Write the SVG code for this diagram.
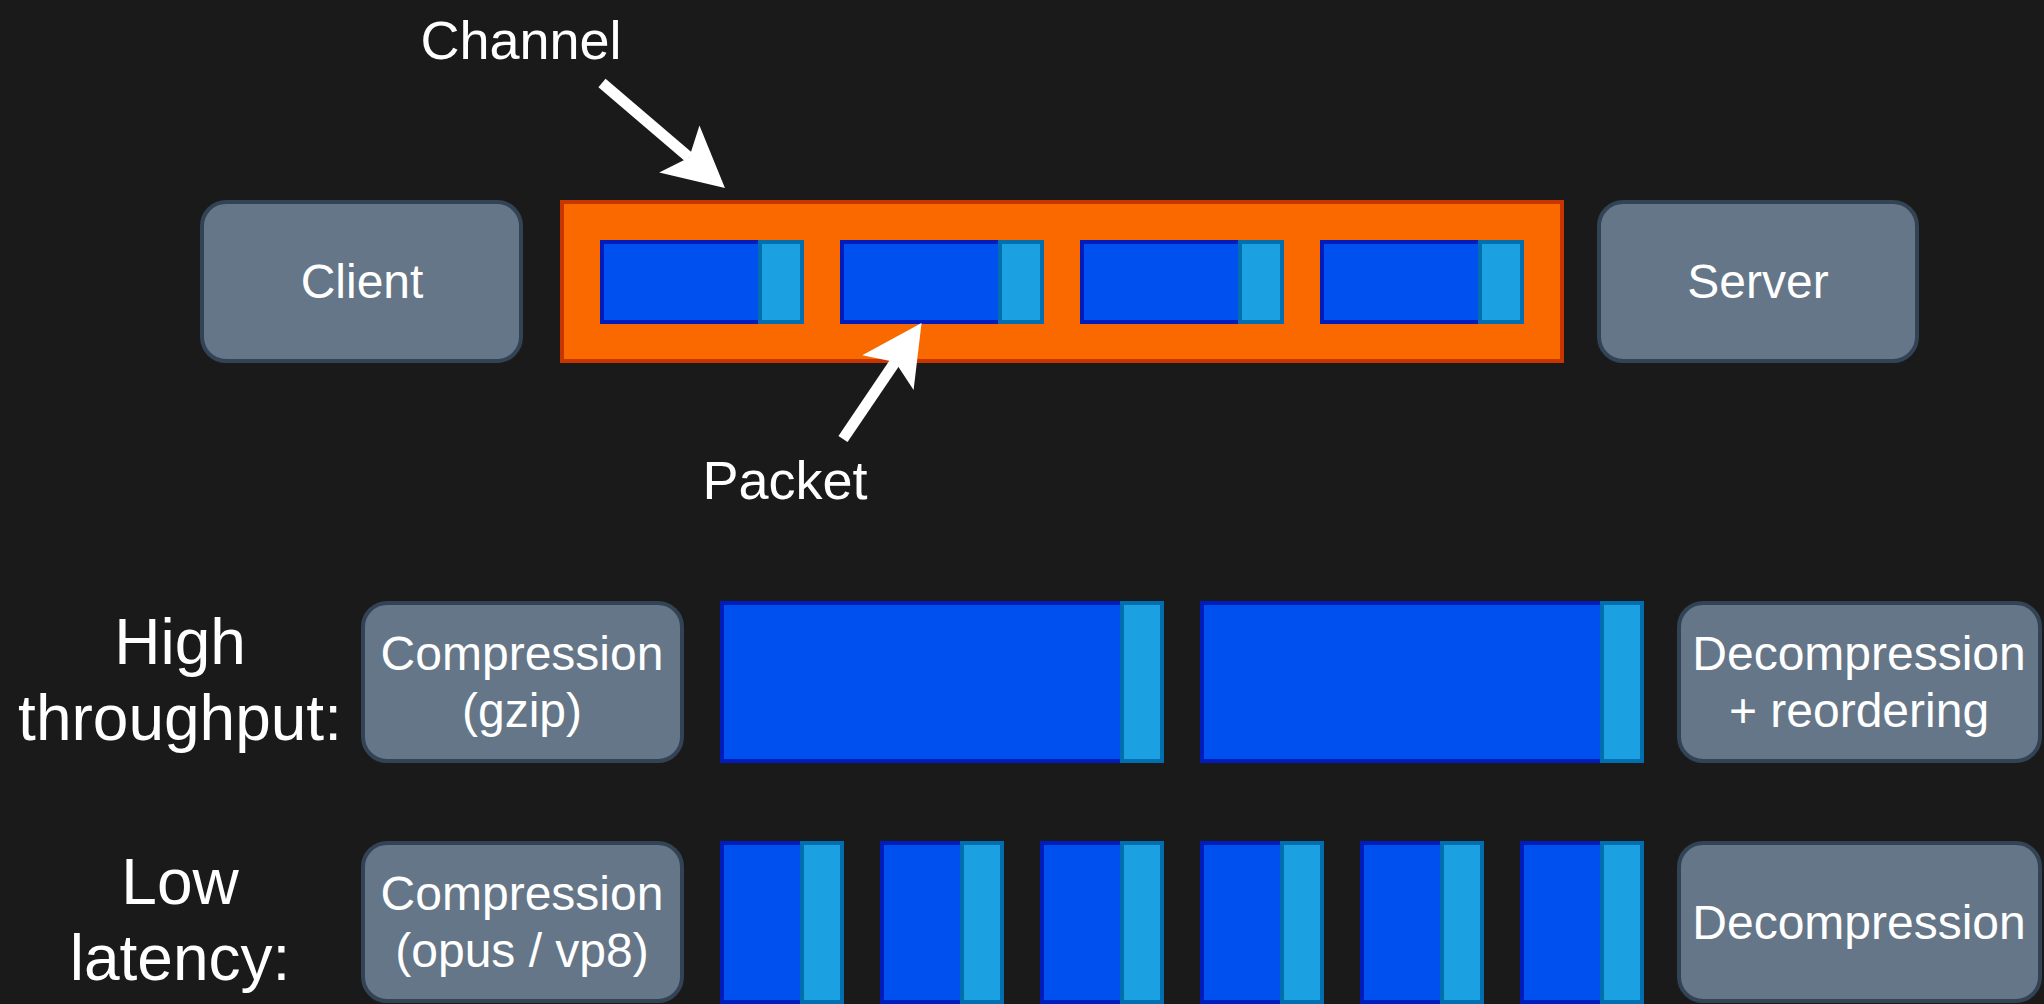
<svg xmlns="http://www.w3.org/2000/svg" width="2044" height="1004" viewBox="0 0 2044 1004">
  <style>
    .bg { fill: #1a1a1a; }
    .box { fill: #647687; stroke: #314354; stroke-width: 4; }
    .chan { fill: #fa6800; stroke: #c73500; stroke-width: 4; }
    .data { fill: #0050ef; stroke: #001dbc; stroke-width: 4; }
    .hdr { fill: #1ba1e2; stroke: #006eaf; stroke-width: 4; }
    .t { fill: #ffffff; font-family: "Liberation Sans", Arial, Helvetica, sans-serif; text-anchor: middle; }
    .t48 { font-size: 48px; }
    .t54 { font-size: 54px; }
    .t64 { font-size: 64px; }
    .arrow { stroke: #ffffff; stroke-width: 11; stroke-linecap: butt; fill: none; }
  </style>
  <defs>
    <marker id="head" markerUnits="userSpaceOnUse" viewBox="0 0 60 62" markerWidth="60" markerHeight="62" refX="13" refY="31" orient="auto" overflow="visible">
      <path d="M0,0 L60,31 L0,62 L13,31 Z" fill="#ffffff"/>
    </marker>
  </defs>

  <rect class="bg" x="0" y="0" width="2044" height="1004"/>

  <g id="client">
    <rect class="box" x="202" y="202" width="319" height="159" rx="24" ry="24"/>
    <text class="t t48" x="362" y="298">Client</text>
  </g>

  <g id="channel">
    <rect class="chan" x="562" y="202" width="1000" height="159"/>
  </g>

  <g id="channel-packets">
    <g id="packet-1"><rect class="data" x="602" y="242" width="158" height="80"/><rect class="hdr" x="760" y="242" width="42" height="80"/></g>
    <g id="packet-2"><rect class="data" x="842" y="242" width="158" height="80"/><rect class="hdr" x="1000" y="242" width="42" height="80"/></g>
    <g id="packet-3"><rect class="data" x="1082" y="242" width="158" height="80"/><rect class="hdr" x="1240" y="242" width="42" height="80"/></g>
    <g id="packet-4"><rect class="data" x="1322" y="242" width="158" height="80"/><rect class="hdr" x="1480" y="242" width="42" height="80"/></g>
  </g>

  <g id="server">
    <rect class="box" x="1599" y="202" width="318" height="159" rx="24" ry="24"/>
    <text class="t t48" x="1758" y="298">Server</text>
  </g>

  <g id="label-channel">
    <text class="t t54" x="521" y="59">Channel</text>
  </g>
  <g id="label-packet">
    <text class="t t54" x="785" y="499">Packet</text>
  </g>

  <g id="label-high">
    <text class="t t64" x="180" y="664">High</text>
    <text class="t t64" x="180" y="740">throughput:</text>
  </g>
  <g id="label-low">
    <text class="t t64" x="180" y="904">Low</text>
    <text class="t t64" x="180" y="980">latency:</text>
  </g>

  <g id="compression-gzip">
    <rect class="box" x="363" y="603" width="319" height="158" rx="24" ry="24"/>
    <text class="t t48" x="522" y="670">Compression</text>
    <text class="t t48" x="522" y="727">(gzip)</text>
  </g>

  <g id="high-packets">
    <g id="hp-1"><rect class="data" x="722" y="603" width="400" height="158"/><rect class="hdr" x="1122" y="603" width="40" height="158"/></g>
    <g id="hp-2"><rect class="data" x="1202" y="603" width="400" height="158"/><rect class="hdr" x="1602" y="603" width="40" height="158"/></g>
  </g>

  <g id="decompression-reorder">
    <rect class="box" x="1679" y="603" width="361" height="158" rx="24" ry="24"/>
    <text class="t t48" x="1859" y="670">Decompression</text>
    <text class="t t48" x="1859" y="727">+ reordering</text>
  </g>

  <g id="compression-opus">
    <rect class="box" x="363" y="843" width="319" height="158" rx="24" ry="24"/>
    <text class="t t48" x="522" y="910">Compression</text>
    <text class="t t48" x="522" y="967">(opus / vp8)</text>
  </g>

  <g id="low-packets">
    <g id="lp-1"><rect class="data" x="722" y="843" width="80" height="159"/><rect class="hdr" x="802" y="843" width="40" height="159"/></g>
    <g id="lp-2"><rect class="data" x="882" y="843" width="80" height="159"/><rect class="hdr" x="962" y="843" width="40" height="159"/></g>
    <g id="lp-3"><rect class="data" x="1042" y="843" width="80" height="159"/><rect class="hdr" x="1122" y="843" width="40" height="159"/></g>
    <g id="lp-4"><rect class="data" x="1202" y="843" width="80" height="159"/><rect class="hdr" x="1282" y="843" width="40" height="159"/></g>
    <g id="lp-5"><rect class="data" x="1362" y="843" width="80" height="159"/><rect class="hdr" x="1442" y="843" width="40" height="159"/></g>
    <g id="lp-6"><rect class="data" x="1522" y="843" width="80" height="159"/><rect class="hdr" x="1602" y="843" width="40" height="159"/></g>
  </g>

  <g id="decompression">
    <rect class="box" x="1679" y="843" width="361" height="158" rx="24" ry="24"/>
    <text class="t t48" x="1859" y="939">Decompression</text>
  </g>

  <g id="connectors">
    <line class="arrow" x1="602" y1="83" x2="689.2" y2="157.5" marker-end="url(#head)"/>
    <line class="arrow" x1="843" y1="439" x2="895.2" y2="361.9" marker-end="url(#head)"/>
  </g>
</svg>
